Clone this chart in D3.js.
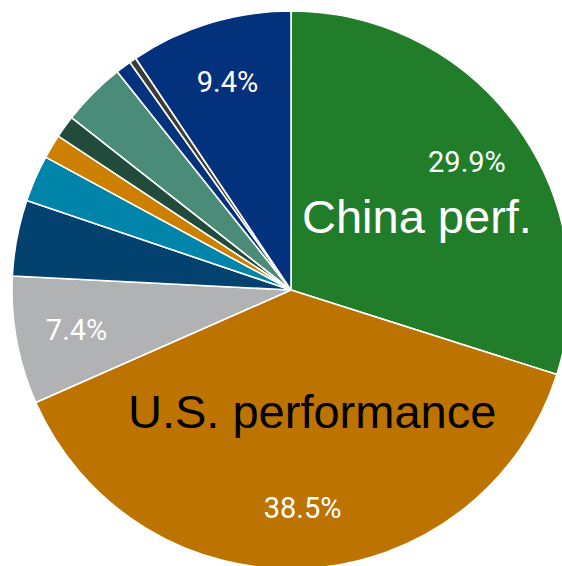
<!DOCTYPE html>
<html>
<head>
<meta charset="utf-8">
<script src="https://cdn.jsdelivr.net/npm/d3@7"></script>
<style>
  html, body { margin: 0; padding: 0; background: #ffffff; }
  svg { display: block; }
</style>
</head>
<body>
<svg id="chart" width="562" height="566"></svg>
<script>
// Slice shares (percent), clockwise from 12 o'clock
const categories = [
  "China", "U.S.", "Other A", "Other B", "Other C", "Other D",
  "Other E", "Other F", "Other G", "Other H", "Other I"
];
const shares = [29.9, 38.5, 7.4, 4.4, 2.7, 1.4, 1.3, 3.7, 0.9, 0.4, 9.4];
const sliceColors = [
  "#227d2b", "#bc7300", "#b1b2b4", "#03426f", "#0084a9", "#cd7f00",
  "#234b3c", "#4b8c78", "#05327d", "#3c3c3c", "#04317b"
];
// Which slices carry a percentage label
const labelled = [true, true, true, false, false, false, false, false, false, false, true];

const width = 562, height = 566;
const cx = 291, cy = 290, radius = 279;

const svg = d3.select("#chart");
const g = svg.append("g").attr("transform", `translate(${cx},${cy})`);

const data = categories.map((c, i) => ({ name: c, value: shares[i], color: sliceColors[i], label: labelled[i] }));

const pie = d3.pie().value(d => d.value).sort(null);
const arcs = pie(data);

const arc = d3.arc().innerRadius(0).outerRadius(radius);
const labelArc = d3.arc().innerRadius(218).outerRadius(218);

g.selectAll("path.slice")
  .data(arcs)
  .join("path")
  .attr("class", "slice")
  .attr("d", arc)
  .attr("fill", d => d.data.color)
  .attr("stroke", "#ffffff")
  .attr("stroke-width", 1.6)
  .attr("stroke-linejoin", "round");

g.selectAll("text.pct")
  .data(arcs.filter(d => d.data.label))
  .join("text")
  .attr("class", "pct")
  .attr("transform", d => `translate(${labelArc.centroid(d)})`)
  .attr("text-anchor", "middle")
  .attr("dy", "0.36em")
  .attr("fill", "#ffffff")
  .attr("font-family", "Roboto, 'DejaVu Sans Condensed', sans-serif")
  .attr("font-size", 29)
  .text(d => d.data.value.toFixed(1) + "%");

// Overlay annotations
svg.append("text")
  .attr("x", 302).attr("y", 233)
  .attr("fill", "#ffffff")
  .attr("font-family", "'Liberation Sans', Arial, sans-serif")
  .attr("font-size", 47)
  .text("China perf.");

svg.append("text")
  .attr("x", 128).attr("y", 428)
  .attr("fill", "#000000")
  .attr("font-family", "'Liberation Sans', Arial, sans-serif")
  .attr("font-size", 47)
  .text("U.S. performance");
</script>
</body>
</html>
